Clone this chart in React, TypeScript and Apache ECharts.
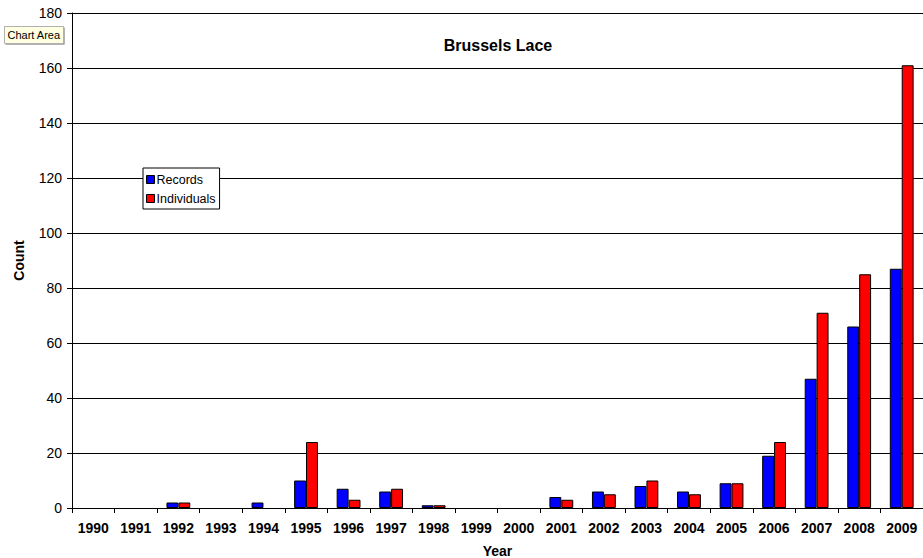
import React, { useEffect, useRef } from "react";
import * as echarts from "echarts";

const years = ["1990","1991","1992","1993","1994","1995","1996","1997","1998","1999","2000","2001","2002","2003","2004","2005","2006","2007","2008","2009"];
const records = [0,0,2,0,2,10,7,6,1,0,0,4,6,8,6,9,19,47,66,87];
const individuals = [0,0,2,0,0,24,3,7,1,0,0,3,5,10,5,9,24,71,85,161];

const FONT = "'Liberation Sans', Arial, sans-serif";

const toItems = (arr: number[]) =>
  arr.map((v) => (v === 0 ? { value: v, itemStyle: { borderWidth: 0, opacity: 0 } } : v));

export default function App() {
  const ref = useRef<HTMLDivElement>(null);
  useEffect(() => {
    if (!ref.current) return;
    const chart = echarts.init(ref.current, undefined, { renderer: "svg" });
    chart.setOption({
      animation: false,
      backgroundColor: "#ffffff",
      textStyle: { fontFamily: FONT },
      title: {
        text: "Brussels Lace",
        left: 493,
        top: 32,
        textAlign: "center",
        textStyle: { fontFamily: FONT, fontSize: 16, fontWeight: "bold", color: "#000" },
      },
      legend: {
        orient: "vertical",
        left: 143,
        top: 168,
        itemWidth: 8,
        itemHeight: 8,
        itemGap: 6,
        padding: [5, 4, 4, 3],
        backgroundColor: "#ffffff",
        borderColor: "#000",
        borderWidth: 1,
        borderRadius: 0,
        textStyle: { fontFamily: FONT, fontSize: 12.5, color: "#000", padding: [0, 0, 0, -3] },
        icon: "rect",
        data: [
          { name: "Records", itemStyle: { borderColor: "#000", borderWidth: 1 } },
          { name: "Individuals", itemStyle: { borderColor: "#000", borderWidth: 1 } },
        ],
      },
      grid: { left: 72, top: 13, right: 0, bottom: 50, containLabel: false, outerBoundsMode: "none" },
      xAxis: {
        type: "category",
        data: years,
        name: "Year",
        nameLocation: "middle",
        nameGap: 36,
        nameTextStyle: { fontFamily: FONT, fontSize: 14, fontWeight: "bold", color: "#000" },
        axisLine: { lineStyle: { color: "#000", width: 1 } },
        axisTick: { show: true, length: 5, lineStyle: { color: "#000" } },
        axisLabel: { fontFamily: FONT, fontSize: 14, fontWeight: "bold", color: "#000", margin: 13, interval: 0 },
      },
      yAxis: {
        type: "value",
        min: 0,
        max: 180,
        interval: 20,
        name: "Count",
        nameLocation: "middle",
        nameGap: 46,
        nameRotate: 90,
        nameTextStyle: { fontFamily: FONT, fontSize: 14, fontWeight: "bold", color: "#000" },
        axisLine: { show: true, lineStyle: { color: "#000", width: 1 } },
        axisTick: { show: true, length: 5, lineStyle: { color: "#000" } },
        axisLabel: { fontFamily: FONT, fontSize: 14, color: "#000", margin: 10 },
        splitLine: { show: true, lineStyle: { color: "#000", width: 1 } },
      },
      series: [
        {
          name: "Records",
          type: "bar",
          data: toItems(records),
          barGap: "0%",
          barCategoryGap: "44%",
          itemStyle: { color: "#0000ff", borderColor: "#000", borderWidth: 1 },
        },
        {
          name: "Individuals",
          type: "bar",
          data: toItems(individuals),
          barGap: "0%",
          barCategoryGap: "44%",
          itemStyle: { color: "#ff0000", borderColor: "#000", borderWidth: 1 },
        },
      ],
      graphic: [
        {
          type: "group",
          left: 4,
          top: 26,
          children: [
            { type: "rect", shape: { x: 1, y: 1, width: 59, height: 17 }, style: { fill: "#6b6b6b" } },
            { type: "rect", shape: { x: 0, y: 0, width: 59, height: 17 }, style: { fill: "#ffffe1", stroke: "#b0b0b0", lineWidth: 1 } },
            { type: "text", style: { x: 3, y: 3, text: "Chart Area", fontFamily: FONT, fontSize: 11, fill: "#000" } },
          ],
        },
      ],
    });
    return () => chart.dispose();
  }, []);
  return <div ref={ref} style={{ position: "fixed", left: 0, top: 0, width: 923, height: 558 }} />;
}
